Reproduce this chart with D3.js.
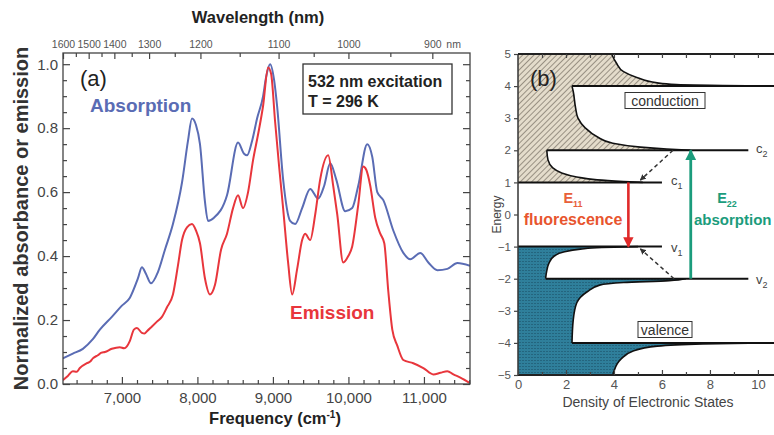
<!DOCTYPE html>
<html>
<head>
<meta charset="utf-8">
<script src="https://cdn.jsdelivr.net/npm/d3@7"></script>
<style>
  body { margin: 0; background: #fff; }
  svg { display: block; font-family: "Liberation Sans", Arial, sans-serif; }
</style>
</head>
<body>
<div id="chart"></div>
<script>
//-----------------------------------------
// data
//-----------------------------------------

// panel (a): frequency (cm-1) vs normalized value
var freqTicks = [7000, 8000, 9000, 10000, 11000];
var yTicks = [0, 0.2, 0.4, 0.6, 0.8, 1.0];

// top axis: wavelength labels and the frequency they sit over in the figure
var wavelengthTicks = [1600, 1500, 1400, 1300, 1200, 1100, 1000, 900];
var wavelengthAt = [6220, 6560, 6900, 7360, 8040, 9075, 10000, 11111];
var wavelengthMinorAt = [6390, 6730, 7130, 7700, 8560, 9540, 10555];

var absorption = [
  [6218, 0.08], [6350, 0.095], [6483, 0.11], [6615, 0.14], [6708, 0.17], [6867, 0.21],
  [7000, 0.245], [7106, 0.27], [7212, 0.33], [7265, 0.365], [7318, 0.345], [7385, 0.315],
  [7477, 0.35], [7570, 0.42], [7676, 0.50], [7796, 0.63], [7875, 0.76], [7928, 0.83],
  [7981, 0.81], [8034, 0.75], [8100, 0.57], [8140, 0.51], [8220, 0.52], [8392, 0.59],
  [8538, 0.755], [8618, 0.72], [8657, 0.715], [8724, 0.76], [8790, 0.83], [8870, 0.90],
  [8910, 0.96], [8963, 1.0], [9016, 0.95], [9055, 0.87], [9135, 0.64], [9228, 0.51],
  [9294, 0.50], [9387, 0.55], [9493, 0.61], [9599, 0.58], [9679, 0.62], [9759, 0.69],
  [9838, 0.64], [9958, 0.54], [10050, 0.55], [10130, 0.62], [10249, 0.75], [10316, 0.71],
  [10382, 0.60], [10462, 0.575], [10594, 0.48], [10727, 0.41], [10820, 0.39], [10952, 0.41],
  [11058, 0.38], [11178, 0.356], [11310, 0.36], [11443, 0.378], [11610, 0.37]
];

var emission = [
  [6218, 0.012], [6284, 0.025], [6350, 0.04], [6400, 0.038], [6443, 0.05], [6536, 0.065],
  [6580, 0.07], [6615, 0.08], [6682, 0.09], [6730, 0.098], [6775, 0.10], [6867, 0.11],
  [6973, 0.115], [7030, 0.112], [7066, 0.118], [7106, 0.135], [7159, 0.17], [7199, 0.175],
  [7265, 0.16], [7300, 0.158], [7332, 0.165], [7398, 0.18], [7464, 0.195], [7530, 0.21],
  [7597, 0.24], [7676, 0.28], [7742, 0.37], [7796, 0.45], [7862, 0.49], [7928, 0.50],
  [7981, 0.48], [8034, 0.44], [8100, 0.33], [8167, 0.28], [8233, 0.31], [8313, 0.42],
  [8392, 0.47], [8472, 0.55], [8538, 0.59], [8604, 0.55], [8671, 0.60], [8737, 0.70],
  [8803, 0.78], [8870, 0.87], [8936, 0.99], [8976, 0.97], [9029, 0.82], [9082, 0.68],
  [9135, 0.55], [9201, 0.38], [9255, 0.28], [9321, 0.36], [9387, 0.45], [9427, 0.47],
  [9493, 0.45], [9560, 0.53], [9626, 0.64], [9732, 0.715], [9798, 0.62], [9852, 0.53],
  [9931, 0.38], [9998, 0.40], [10050, 0.43], [10130, 0.56], [10196, 0.68], [10236, 0.67],
  [10289, 0.62], [10355, 0.52], [10422, 0.47], [10475, 0.44], [10528, 0.29], [10581, 0.17],
  [10647, 0.12], [10727, 0.075], [10859, 0.065], [10992, 0.05], [11125, 0.03], [11218, 0.035],
  [11310, 0.04], [11390, 0.03], [11483, 0.02], [11610, 0.003]
];

// panel (b): [energy, density of states] points of the band edges
var energyTicks = [-5, -4, -3, -2, -1, 0, 1, 2, 3, 4, 5];
var dosTicks = [0, 2, 4, 6, 8, 10];

var c1Edge = [[1.0, 5.2], [1.03, 4.4], [1.08, 3.3], [1.17, 2.45], [1.3, 1.8], [1.45, 1.45], [1.7, 1.25], [2.0, 1.2]];
var c2Edge = [[2.0, 7.2], [2.04, 6.2], [2.1, 5.1], [2.22, 3.95], [2.42, 3.3], [2.7, 2.8], [3.0, 2.5], [3.32, 2.4], [3.84, 2.3], [4.0, 2.25]];
var c3Edge = [[4.0, 10.8], [4.05, 6.6], [4.1, 5.8], [4.27, 4.95], [4.45, 4.4], [4.72, 4.1], [5.0, 3.9]];
var v1Edge = [[-1.0, 5.0], [-1.03, 3.5], [-1.08, 2.6], [-1.17, 1.9], [-1.3, 1.5], [-1.5, 1.3], [-1.75, 1.2], [-2.0, 1.15]];
var v2Edge = [[-2.0, 7.0], [-2.06, 6.3], [-2.12, 4.4], [-2.2, 3.4], [-2.4, 2.9], [-2.75, 2.45], [-3.3, 2.3], [-4.0, 2.25]];
var v3Edge = [[-4.0, 10.8], [-4.03, 7.7], [-4.1, 5.8], [-4.25, 4.8], [-4.5, 4.3], [-4.88, 4.0], [-5.0, 3.95]];

// band edge lines: [energy, dos start, dos end]
var levelLines = [[1, 0, 6.0], [2, 1.2, 9.6], [4, 2.25, 10.8], [-1, 0, 6.0], [-2, 1.15, 9.6], [-4, 2.25, 10.8]];

//-----------------------------------------
// svg
//-----------------------------------------
var svg = d3.select("#chart").append("svg")
  .attr("width", 774)
  .attr("height", 435);

var defs = svg.append("defs");

//-----------------------------------------
// panel (a)
//-----------------------------------------
var A = { left: 63, right: 470, top: 53, bottom: 384 };

var x = d3.scaleLinear().domain([6220, 11610]).range([A.left, A.right]);
var y = d3.scaleLinear().domain([0, 1.035]).range([A.bottom, A.top]);

defs.append("clipPath").attr("id", "clipA")
  .append("rect")
  .attr("x", A.left).attr("y", A.top)
  .attr("width", A.right - A.left).attr("height", A.bottom - A.top);

var pa = svg.append("g");

var spectrum = d3.line()
  .x(function (d) { return x(d[0]); })
  .y(function (d) { return y(d[1]); })
  .curve(d3.curveMonotoneX);

var curves = pa.append("g").attr("clip-path", "url(#clipA)");
curves.append("path").datum(absorption)
  .attr("d", spectrum)
  .attr("fill", "none")
  .attr("stroke", "#5a6cb4")
  .attr("stroke-width", 2);
curves.append("path").datum(emission)
  .attr("d", spectrum)
  .attr("fill", "none")
  .attr("stroke", "#e8363c")
  .attr("stroke-width", 2);

// frame
pa.append("rect")
  .attr("x", A.left).attr("y", A.top)
  .attr("width", A.right - A.left).attr("height", A.bottom - A.top)
  .attr("fill", "none")
  .attr("stroke", "#444")
  .attr("stroke-width", 1.3);

function styleAxis(g, size, color) {
  g.select(".domain").remove();
  g.selectAll(".tick line").attr("stroke", "#444").attr("stroke-width", 1.2);
  g.selectAll("text").attr("font-size", size).attr("fill", color).attr("font-family", null);
}

// minor ticks
var minorFreq = d3.range(6400, 11601, 200).filter(function (d) { return d % 1000 !== 0; });
var minorY = d3.range(0.05, 1.03, 0.05).filter(function (d) { return Math.abs(d * 5 - Math.round(d * 5)) > 0.01; });

pa.append("g")
  .attr("transform", "translate(0," + A.bottom + ")")
  .call(d3.axisBottom(x).tickValues(minorFreq).tickFormat("").tickSizeInner(-4).tickSizeOuter(0))
  .call(styleAxis, 0, "none");

pa.append("g")
  .attr("transform", "translate(0," + A.bottom + ")")
  .call(d3.axisBottom(x).tickValues(freqTicks).tickFormat(d3.format(",")).tickSizeInner(-7).tickSizeOuter(0).tickPadding(8))
  .call(styleAxis, 15, "#444");

pa.append("g")
  .attr("transform", "translate(" + A.left + ",0)")
  .call(d3.axisLeft(y).tickValues(minorY).tickFormat("").tickSizeInner(-4).tickSizeOuter(0))
  .call(styleAxis, 0, "none");

pa.append("g")
  .attr("transform", "translate(" + A.left + ",0)")
  .call(d3.axisLeft(y).tickValues(yTicks).tickFormat(d3.format(".1f")).tickSizeInner(-7).tickSizeOuter(0).tickPadding(5))
  .call(styleAxis, 15, "#444");

pa.append("g")
  .attr("transform", "translate(" + A.right + ",0)")
  .call(d3.axisRight(y).tickValues(minorY).tickFormat("").tickSizeInner(-4).tickSizeOuter(0))
  .call(styleAxis, 0, "none");

pa.append("g")
  .attr("transform", "translate(" + A.right + ",0)")
  .call(d3.axisRight(y).tickValues(yTicks).tickFormat("").tickSizeInner(-7).tickSizeOuter(0))
  .call(styleAxis, 0, "none");

// top wavelength axis
pa.append("g")
  .attr("transform", "translate(0," + A.top + ")")
  .call(d3.axisTop(x).tickValues(wavelengthMinorAt).tickFormat("").tickSizeInner(-4).tickSizeOuter(0))
  .call(styleAxis, 0, "none");

pa.append("g")
  .attr("transform", "translate(0," + A.top + ")")
  .call(d3.axisTop(x)
    .tickValues(wavelengthAt)
    .tickFormat(function (f, i) { return wavelengthTicks[i]; })
    .tickSizeInner(-6).tickSizeOuter(0).tickPadding(5))
  .call(styleAxis, 10.5, "#555");

pa.append("text")
  .attr("x", x(wavelengthAt[wavelengthAt.length - 1]) + 14).attr("y", A.top - 5)
  .attr("font-size", 10.5).attr("fill", "#555")
  .text("nm");

// titles
pa.append("text")
  .attr("x", 258).attr("y", 23)
  .attr("text-anchor", "middle")
  .attr("font-size", 16.5).attr("font-weight", "bold").attr("fill", "#222")
  .text("Wavelength (nm)");

var xt = pa.append("text")
  .attr("x", 275).attr("y", 424)
  .attr("text-anchor", "middle")
  .attr("font-size", 16.5).attr("font-weight", "bold").attr("fill", "#222");
xt.append("tspan").text("Frequency (cm");
xt.append("tspan").attr("dy", -6).attr("font-size", 10).text("-1");
xt.append("tspan").attr("dy", 6).text(")");

pa.append("text")
  .attr("transform", "translate(28," + ((A.top + A.bottom) / 2) + ") rotate(-90)")
  .attr("text-anchor", "middle")
  .attr("font-size", 20).attr("font-weight", "bold").attr("fill", "#333")
  .text("Normalized absorbance or emission");

pa.append("text")
  .attr("x", 80).attr("y", 86)
  .attr("font-size", 22).attr("fill", "#222")
  .text("(a)");

pa.append("text")
  .attr("x", 90).attr("y", 112)
  .attr("font-size", 19).attr("font-weight", "bold").attr("fill", "#5a6cb4")
  .text("Absorption");

pa.append("text")
  .attr("x", 290).attr("y", 319)
  .attr("font-size", 19).attr("font-weight", "bold").attr("fill", "#e8363c")
  .text("Emission");

// condition box
pa.append("rect")
  .attr("x", 303).attr("y", 64).attr("width", 149).attr("height", 50)
  .attr("fill", "#fff").attr("stroke", "#333").attr("stroke-width", 1.3);
pa.append("text")
  .attr("x", 308).attr("y", 87)
  .attr("font-size", 16).attr("font-weight", "bold").attr("fill", "#222")
  .text("532 nm excitation");
pa.append("text")
  .attr("x", 308).attr("y", 107)
  .attr("font-size", 16).attr("font-weight", "bold").attr("fill", "#222")
  .text("T = 296 K");

//-----------------------------------------
// panel (b)
//-----------------------------------------
var B = { left: 518, right: 774, top: 54, bottom: 375 };
var xb = d3.scaleLinear().domain([0, 10.67]).range([B.left, B.right]);
var yb = d3.scaleLinear().domain([-5, 5]).range([B.bottom, B.top]);

// fill patterns
var hatch = defs.append("pattern")
  .attr("id", "hatch")
  .attr("patternUnits", "userSpaceOnUse")
  .attr("width", 4).attr("height", 4)
  .attr("patternTransform", "rotate(45)");
hatch.append("rect").attr("width", 4).attr("height", 4).attr("fill", "#e4dccb");
hatch.append("line").attr("x1", 0).attr("y1", 0).attr("x2", 0).attr("y2", 4)
  .attr("stroke", "#6e665b").attr("stroke-width", 1.3);

var dots = defs.append("pattern")
  .attr("id", "dots")
  .attr("patternUnits", "userSpaceOnUse")
  .attr("width", 3).attr("height", 3);
dots.append("rect").attr("width", 3).attr("height", 3).attr("fill", "#2f7f9b");
dots.append("rect").attr("width", 2).attr("height", 1).attr("fill", "#24657e");

var edge = d3.line()
  .x(function (d) { return xb(d[1]); })
  .y(function (d) { return yb(d[0]); })
  .curve(d3.curveMonotoneY);

function regionPath(segments, eStart, eEnd) {
  var d = "M" + xb(0) + "," + yb(eStart);
  segments.forEach(function (s) { d += edge(s).replace(/^M/, "L"); });
  d += "L" + xb(0) + "," + yb(eEnd) + "Z";
  return d;
}

var pb = svg.append("g");

pb.append("path")
  .attr("d", regionPath([c1Edge, c2Edge, c3Edge], 1, 5))
  .attr("fill", "url(#hatch)");
pb.append("path")
  .attr("d", regionPath([v1Edge, v2Edge, v3Edge], -1, -5))
  .attr("fill", "url(#dots)");

[c1Edge, c2Edge, c3Edge, v1Edge, v2Edge, v3Edge].forEach(function (s) {
  pb.append("path").datum(s)
    .attr("d", edge)
    .attr("fill", "none")
    .attr("stroke", "#111")
    .attr("stroke-width", 1.6);
});

pb.selectAll(".level")
  .data(levelLines)
  .enter()
  .append("line")
  .attr("class", "level")
  .attr("x1", function (d) { return xb(d[1]); })
  .attr("x2", function (d) { return xb(d[2]); })
  .attr("y1", function (d) { return yb(d[0]); })
  .attr("y2", function (d) { return yb(d[0]); })
  .attr("stroke", "#111")
  .attr("stroke-width", 2);

// axes of (b)
pb.append("line")
  .attr("x1", B.left).attr("x2", B.left).attr("y1", B.top).attr("y2", B.bottom)
  .attr("stroke", "#333").attr("stroke-width", 1.5);
pb.append("line")
  .attr("x1", B.left).attr("x2", B.right).attr("y1", B.top).attr("y2", B.top)
  .attr("stroke", "#222").attr("stroke-width", 2);
pb.append("line")
  .attr("x1", B.left).attr("x2", B.right).attr("y1", B.bottom).attr("y2", B.bottom)
  .attr("stroke", "#222").attr("stroke-width", 2);

pb.append("g")
  .attr("transform", "translate(" + B.left + ",0)")
  .call(d3.axisLeft(yb).tickValues(energyTicks).tickFormat(d3.format("d")).tickSizeInner(4).tickSizeOuter(0).tickPadding(3))
  .call(styleAxis, 11.5, "#555");

pb.append("g")
  .attr("transform", "translate(0," + B.bottom + ")")
  .call(d3.axisBottom(xb).tickValues(d3.range(1, 11, 2)).tickFormat("").tickSizeInner(-3).tickSizeOuter(0))
  .call(styleAxis, 0, "none");
pb.append("g")
  .attr("transform", "translate(0," + B.bottom + ")")
  .call(d3.axisBottom(xb).tickValues(dosTicks).tickFormat(d3.format("d")).tickSizeInner(-5).tickSizeOuter(0).tickPadding(5))
  .call(styleAxis, 13, "#555");
pb.append("g")
  .attr("transform", "translate(0," + B.top + ")")
  .call(d3.axisTop(xb).tickValues(d3.range(1, 11)).tickFormat("").tickSizeInner(-4).tickSizeOuter(0))
  .call(styleAxis, 0, "none");

pb.append("text")
  .attr("transform", "translate(501," + yb(0) + ") rotate(-90)")
  .attr("text-anchor", "middle")
  .attr("font-size", 12).attr("fill", "#444")
  .text("Energy");

pb.append("text")
  .attr("x", 648).attr("y", 407)
  .attr("text-anchor", "middle")
  .attr("font-size", 14).attr("fill", "#444")
  .text("Density of Electronic States");

pb.append("text")
  .attr("x", 530).attr("y", 86)
  .attr("font-size", 22).attr("fill", "#222")
  .text("(b)");

// label boxes
function boxLabel(cx, cy, w, label) {
  pb.append("rect")
    .attr("x", cx - w / 2).attr("y", cy - 8).attr("width", w).attr("height", 16)
    .attr("fill", "#fff").attr("stroke", "#333").attr("stroke-width", 1);
  pb.append("text")
    .attr("x", cx).attr("y", cy + 5)
    .attr("text-anchor", "middle")
    .attr("font-size", 14).attr("fill", "#333")
    .text(label);
}
boxLabel(665, 100.5, 80, "conduction");
boxLabel(665, 329.5, 54, "valence");

// subband labels
function subLabel(px, py, letter, idx) {
  var t = pb.append("text")
    .attr("x", px).attr("y", py)
    .attr("font-size", 13).attr("fill", "#444");
  t.append("tspan").text(letter);
  t.append("tspan").attr("dy", 4).attr("font-size", 9).text(idx);
}
subLabel(671, yb(1) + 3, "c", "1");
subLabel(756, yb(2) + 3, "c", "2");
subLabel(671, yb(-1) + 5, "v", "1");
subLabel(756, yb(-2) + 5, "v", "2");

// arrows
function marker(id, color) {
  defs.append("marker")
    .attr("id", id)
    .attr("viewBox", "0 0 10 10")
    .attr("refX", 9).attr("refY", 5)
    .attr("markerWidth", 4).attr("markerHeight", 4)
    .attr("orient", "auto")
    .append("path")
    .attr("d", "M0,0L10,5L0,10Z")
    .attr("fill", color);
}
marker("arRed", "#e02a2a");
marker("arGreen", "#1b9c7c");
marker("arBlack", "#333");

pb.append("line")
  .attr("x1", xb(4.6)).attr("x2", xb(4.6)).attr("y1", yb(1)).attr("y2", yb(-1))
  .attr("stroke", "#e02a2a").attr("stroke-width", 2.6)
  .attr("marker-end", "url(#arRed)");
pb.append("line")
  .attr("x1", xb(7.2)).attr("x2", xb(7.2)).attr("y1", yb(-2)).attr("y2", yb(2))
  .attr("stroke", "#1b9c7c").attr("stroke-width", 2.8)
  .attr("marker-end", "url(#arGreen)");

pb.append("line")
  .attr("x1", xb(6.46)).attr("x2", xb(5.1)).attr("y1", yb(2)).attr("y2", yb(1.07))
  .attr("stroke", "#333").attr("stroke-width", 1.5).attr("stroke-dasharray", "4,3")
  .attr("marker-end", "url(#arBlack)");
pb.append("line")
  .attr("x1", xb(6.5)).attr("x2", xb(5.1)).attr("y1", yb(-2)).attr("y2", yb(-1.07))
  .attr("stroke", "#333").attr("stroke-width", 1.5).attr("stroke-dasharray", "4,3")
  .attr("marker-end", "url(#arBlack)");

// transition labels
function eLabel(px, py, idx, color) {
  var t = pb.append("text")
    .attr("x", px).attr("y", py)
    .attr("text-anchor", "middle")
    .attr("font-size", 14.5).attr("font-weight", "bold").attr("fill", color);
  t.append("tspan").text("E");
  t.append("tspan").attr("dy", 4).attr("font-size", 9).text(idx);
}
eLabel(573, 203, "11", "#e8603a");
eLabel(727, 203, "22", "#1b9c7c");

pb.append("text")
  .attr("x", 573).attr("y", 225)
  .attr("text-anchor", "middle")
  .attr("font-size", 16).attr("font-weight", "bold").attr("fill", "#e8552e")
  .text("fluorescence");
pb.append("text")
  .attr("x", 694).attr("y", 225)
  .attr("font-size", 15).attr("font-weight", "bold").attr("fill", "#1b9c7c")
  .text("absorption");
</script>
</body>
</html>
